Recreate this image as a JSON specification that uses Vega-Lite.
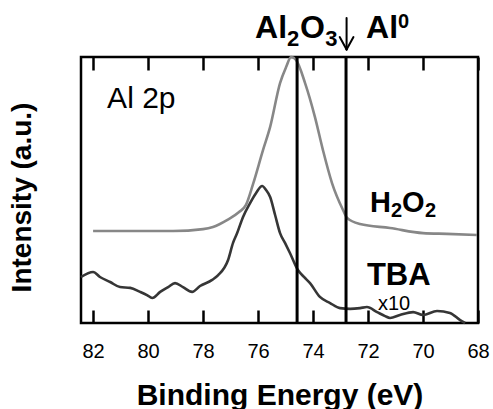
{
  "$schema": "https://vega.github.io/schema/vega-lite/v6.json",
  "autosize": "none",
  "width": 397,
  "height": 266,
  "padding": {"left": 81, "top": 57, "right": 15, "bottom": 86},
  "background": "white",
  "config": {
    "view": {"stroke": "black", "strokeWidth": 2.5},
    "font": "Liberation Sans",
    "axis": {"grid": false}
  },
  "datasets": {
    "spectra": [
      {"sample": "H2O2", "energy": 82.0, "intensity": 34.6},
      {"sample": "H2O2", "energy": 80.55, "intensity": 34.6},
      {"sample": "H2O2", "energy": 79.09, "intensity": 34.6},
      {"sample": "H2O2", "energy": 78.0, "intensity": 35.3},
      {"sample": "H2O2", "energy": 77.64, "intensity": 36.1},
      {"sample": "H2O2", "energy": 77.13, "intensity": 38.7},
      {"sample": "H2O2", "energy": 76.69, "intensity": 41.7},
      {"sample": "H2O2", "energy": 76.44, "intensity": 44.4},
      {"sample": "H2O2", "energy": 76.18, "intensity": 52.3},
      {"sample": "H2O2", "energy": 75.82, "intensity": 65.0},
      {"sample": "H2O2", "energy": 75.56, "intensity": 73.7},
      {"sample": "H2O2", "energy": 75.2, "intensity": 90.2},
      {"sample": "H2O2", "energy": 74.98, "intensity": 96.2},
      {"sample": "H2O2", "energy": 74.8, "intensity": 100},
      {"sample": "H2O2", "energy": 74.62, "intensity": 98.9},
      {"sample": "H2O2", "energy": 74.29, "intensity": 90.2},
      {"sample": "H2O2", "energy": 73.93, "intensity": 77.4},
      {"sample": "H2O2", "energy": 73.64, "intensity": 65.0},
      {"sample": "H2O2", "energy": 73.31, "intensity": 52.6},
      {"sample": "H2O2", "energy": 72.91, "intensity": 42.5},
      {"sample": "H2O2", "energy": 72.76, "intensity": 39.5},
      {"sample": "H2O2", "energy": 72.29, "intensity": 37.2},
      {"sample": "H2O2", "energy": 71.2, "intensity": 35.7},
      {"sample": "H2O2", "energy": 70.0, "intensity": 33.8},
      {"sample": "H2O2", "energy": 69.13, "intensity": 33.5},
      {"sample": "H2O2", "energy": 68.04, "intensity": 33.1},
      {"sample": "TBA", "energy": 82.44, "intensity": 17.3},
      {"sample": "TBA", "energy": 82.0, "intensity": 19.2},
      {"sample": "TBA", "energy": 81.75, "intensity": 17.3},
      {"sample": "TBA", "energy": 81.38, "intensity": 15.4},
      {"sample": "TBA", "energy": 81.02, "intensity": 13.5},
      {"sample": "TBA", "energy": 80.65, "intensity": 13.2},
      {"sample": "TBA", "energy": 80.29, "intensity": 11.7},
      {"sample": "TBA", "energy": 80.04, "intensity": 10.5},
      {"sample": "TBA", "energy": 79.85, "intensity": 9.4},
      {"sample": "TBA", "energy": 79.56, "intensity": 11.7},
      {"sample": "TBA", "energy": 79.27, "intensity": 13.5},
      {"sample": "TBA", "energy": 79.02, "intensity": 15.0},
      {"sample": "TBA", "energy": 78.73, "intensity": 13.5},
      {"sample": "TBA", "energy": 78.4, "intensity": 11.7},
      {"sample": "TBA", "energy": 78.11, "intensity": 13.9},
      {"sample": "TBA", "energy": 77.67, "intensity": 16.2},
      {"sample": "TBA", "energy": 77.45, "intensity": 18.0},
      {"sample": "TBA", "energy": 77.09, "intensity": 23.7},
      {"sample": "TBA", "energy": 76.91, "intensity": 30.1},
      {"sample": "TBA", "energy": 76.76, "intensity": 33.8},
      {"sample": "TBA", "energy": 76.55, "intensity": 39.8},
      {"sample": "TBA", "energy": 76.29, "intensity": 45.1},
      {"sample": "TBA", "energy": 76.07, "intensity": 48.9},
      {"sample": "TBA", "energy": 75.85, "intensity": 51.5},
      {"sample": "TBA", "energy": 75.71, "intensity": 50.0},
      {"sample": "TBA", "energy": 75.56, "intensity": 47.4},
      {"sample": "TBA", "energy": 75.38, "intensity": 40.6},
      {"sample": "TBA", "energy": 75.2, "intensity": 33.8},
      {"sample": "TBA", "energy": 75.02, "intensity": 30.1},
      {"sample": "TBA", "energy": 74.84, "intensity": 26.3},
      {"sample": "TBA", "energy": 74.55, "intensity": 19.9},
      {"sample": "TBA", "energy": 74.33, "intensity": 17.3},
      {"sample": "TBA", "energy": 74.11, "intensity": 15.0},
      {"sample": "TBA", "energy": 73.75, "intensity": 9.8},
      {"sample": "TBA", "energy": 73.38, "intensity": 7.5},
      {"sample": "TBA", "energy": 73.02, "intensity": 5.6},
      {"sample": "TBA", "energy": 72.65, "intensity": 5.3},
      {"sample": "TBA", "energy": 72.29, "intensity": 5.6},
      {"sample": "TBA", "energy": 72.04, "intensity": 6.0},
      {"sample": "TBA", "energy": 71.67, "intensity": 4.1},
      {"sample": "TBA", "energy": 71.38, "intensity": 2.6},
      {"sample": "TBA", "energy": 71.2, "intensity": 1.9},
      {"sample": "TBA", "energy": 70.84, "intensity": 3.0},
      {"sample": "TBA", "energy": 70.36, "intensity": 4.1},
      {"sample": "TBA", "energy": 70.0, "intensity": 3.0},
      {"sample": "TBA", "energy": 69.49, "intensity": 4.5},
      {"sample": "TBA", "energy": 69.02, "intensity": 3.8},
      {"sample": "TBA", "energy": 68.65, "intensity": 1.1},
      {"sample": "TBA", "energy": 68.47, "intensity": 0}
    ],
    "markers": [{"energy": 74.58}, {"energy": 72.8}],
    "arrow": [
      {"energy": 72.78, "intensity": 114.7, "energy2": 72.78, "intensity2": 102.8},
      {"energy": 73.03, "intensity": 107.5, "energy2": 72.78, "intensity2": 102.8},
      {"energy": 72.53, "intensity": 107.5, "energy2": 72.78, "intensity2": 102.8}
    ],
    "bigText": [
      {"t": "Al", "energy": 76.11, "intensity": 107.1},
      {"t": "O", "energy": 74.47, "intensity": 107.1},
      {"t": "Al", "energy": 72.07, "intensity": 107.1}
    ],
    "subText": [
      {"t": "2", "energy": 74.95, "intensity": 104.1},
      {"t": "3", "energy": 73.56, "intensity": 104.1}
    ],
    "supText": [{"t": "0", "energy": 70.91, "intensity": 110.9}],
    "h2o2Big": [
      {"t": "H", "energy": 71.93, "intensity": 41.7},
      {"t": "O", "energy": 70.76, "intensity": 41.7}
    ],
    "h2o2Sub": [
      {"t": "2", "energy": 71.16, "intensity": 39.8},
      {"t": "2", "energy": 69.93, "intensity": 39.8}
    ],
    "tba": [{"t": "TBA", "energy": 72.04, "intensity": 14.3}],
    "x10": [{"t": "x10", "energy": 71.64, "intensity": 4.9}],
    "al2p": [{"t": "Al 2p", "energy": 81.49, "intensity": 80.8}]
  },
  "encoding": {
    "y": {
      "field": "intensity",
      "type": "quantitative",
      "scale": {"domain": [0, 100], "nice": false, "zero": false},
      "axis": {
        "title": "Intensity (a.u.)",
        "titleFont": "Liberation Sans",
        "titleFontSize": 28,
        "titleFontWeight": "bold",
        "titleColor": "black",
        "titlePadding": 45,
        "titleY": 140,
        "labels": false,
        "ticks": false,
        "domain": false
      }
    }
  },
  "resolve": {"axis": {"x": "independent"}},
  "layer": [
    {
      "data": {"name": "spectra"},
      "mark": {"type": "line", "interpolate": "monotone", "strokeWidth": 2.6},
      "encoding": {
        "x": {
          "field": "energy",
          "type": "quantitative",
          "scale": {"domain": [68, 82.44], "reverse": true, "nice": false, "zero": false},
          "axis": {
            "orient": "bottom",
            "title": "Binding Energy (eV)",
            "titleFont": "Liberation Sans",
            "titleFontSize": 30,
            "titleFontWeight": "bold",
            "titleColor": "black",
            "titlePadding": 19,
            "values": [82, 80, 78, 76, 74, 72, 70, 68],
            "format": "d",
            "labelFont": "Liberation Sans",
            "labelFontSize": 20,
            "labelColor": "black",
            "labelPadding": 31,
            "labelFlush": false,
            "labelOverlap": false,
            "tickSize": -13,
            "tickWidth": 2.5,
            "tickColor": "black",
            "domain": false
          }
        },
        "color": {
          "field": "sample",
          "type": "nominal",
          "scale": {"domain": ["H2O2", "TBA"], "range": ["#878787", "#363636"]},
          "legend": null
        }
      }
    },
    {
      "data": {"name": "markers"},
      "mark": {"type": "rule", "color": "black", "strokeWidth": 3},
      "encoding": {
        "y": null,
        "x": {
          "field": "energy",
          "type": "quantitative",
          "axis": {"orient": "top", "labels": false, "title": null, "values": [82, 80, 78, 76, 74, 72, 70, 68], "tickSize": -13, "tickWidth": 2.5, "tickColor": "black", "domain": false}
        }
      }
    },
    {
      "data": {"name": "arrow"},
      "mark": {"type": "rule", "color": "black", "strokeWidth": 2, "strokeCap": "round"},
      "encoding": {
        "x": {"field": "energy", "type": "quantitative", "axis": null},
        "x2": {"field": "energy2"},
        "y2": {"field": "intensity2"}
      }
    },
    {
      "data": {"name": "bigText"},
      "mark": {"type": "text", "align": "left", "baseline": "alphabetic", "font": "Liberation Sans", "fontSize": 32, "fontWeight": "bold", "color": "black"},
      "encoding": {"x": {"field": "energy", "type": "quantitative", "axis": null}, "text": {"field": "t"}}
    },
    {
      "data": {"name": "subText"},
      "mark": {"type": "text", "align": "left", "baseline": "alphabetic", "font": "Liberation Sans", "fontSize": 22, "fontWeight": "bold", "color": "black"},
      "encoding": {"x": {"field": "energy", "type": "quantitative", "axis": null}, "text": {"field": "t"}}
    },
    {
      "data": {"name": "supText"},
      "mark": {"type": "text", "align": "left", "baseline": "alphabetic", "font": "Liberation Sans", "fontSize": 20, "fontWeight": "bold", "color": "black"},
      "encoding": {"x": {"field": "energy", "type": "quantitative", "axis": null}, "text": {"field": "t"}}
    },
    {
      "data": {"name": "h2o2Big"},
      "mark": {"type": "text", "align": "left", "baseline": "alphabetic", "font": "Liberation Sans", "fontSize": 29, "fontWeight": "bold", "color": "black"},
      "encoding": {"x": {"field": "energy", "type": "quantitative", "axis": null}, "text": {"field": "t"}}
    },
    {
      "data": {"name": "h2o2Sub"},
      "mark": {"type": "text", "align": "left", "baseline": "alphabetic", "font": "Liberation Sans", "fontSize": 20, "fontWeight": "bold", "color": "black"},
      "encoding": {"x": {"field": "energy", "type": "quantitative", "axis": null}, "text": {"field": "t"}}
    },
    {
      "data": {"name": "tba"},
      "mark": {"type": "text", "align": "left", "baseline": "alphabetic", "font": "Liberation Sans", "fontSize": 31, "fontWeight": "bold", "color": "black"},
      "encoding": {"x": {"field": "energy", "type": "quantitative", "axis": null}, "text": {"field": "t"}}
    },
    {
      "data": {"name": "x10"},
      "mark": {"type": "text", "align": "left", "baseline": "alphabetic", "font": "Liberation Sans", "fontSize": 20, "color": "black"},
      "encoding": {"x": {"field": "energy", "type": "quantitative", "axis": null}, "text": {"field": "t"}}
    },
    {
      "data": {"name": "al2p"},
      "mark": {"type": "text", "align": "left", "baseline": "alphabetic", "font": "Liberation Sans", "fontSize": 30, "color": "black"},
      "encoding": {"x": {"field": "energy", "type": "quantitative", "axis": null}, "text": {"field": "t"}}
    }
  ]
}
